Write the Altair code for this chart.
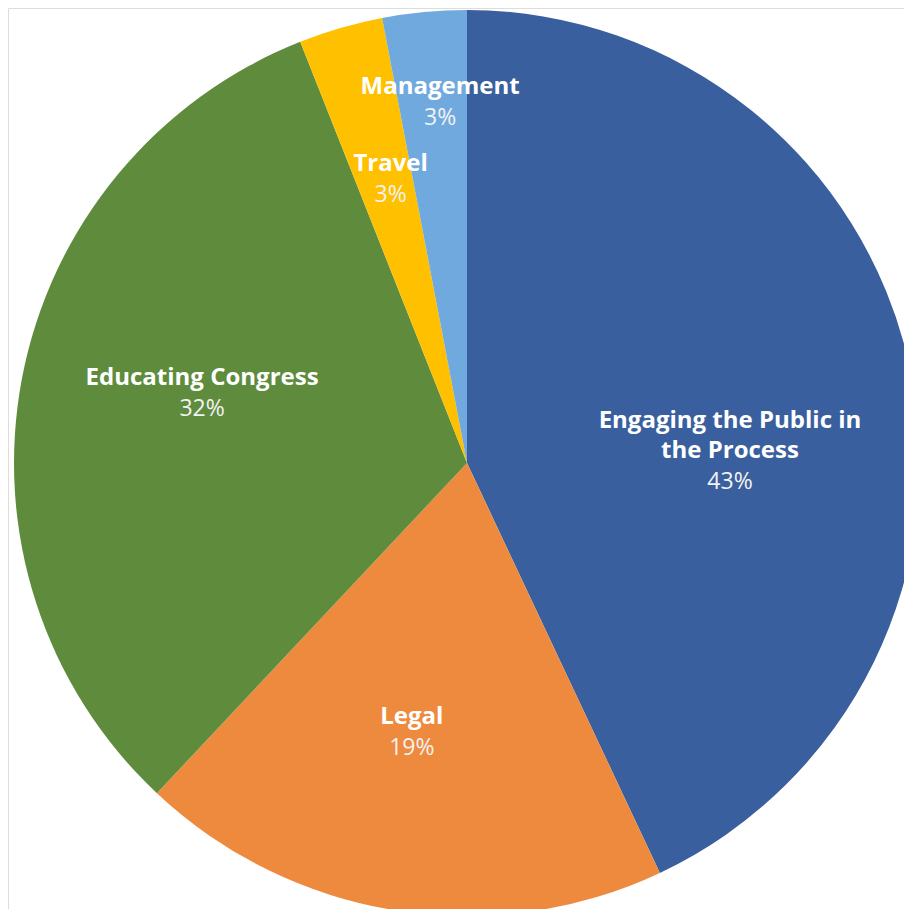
import altair as alt
import pandas as pd

categories = ["Engaging the Public in the Process", "Legal", "Educating Congress", "Travel", "Management"]
display_names = ["Engaging the Public in\nthe Process", "Legal", "Educating Congress", "Travel", "Management"]
values = [43, 19, 32, 3, 3]
pct_labels = ["43%", "19%", "32%", "3%", "3%"]
colors = ["#3A5F9E", "#EE8A3E", "#5E8C3C", "#FFC000", "#70A9DE"]

df = pd.DataFrame({
    "category": categories,
    "name": display_names,
    "value": values,
    "pct": pct_labels,
    "idx": list(range(len(categories))),
})

CX, CY, R = 459, 455, 453
LH = 30

base = alt.Chart(df).transform_joinaggregate(
    total="sum(value)"
).transform_window(
    cum="sum(value)", sort=[alt.SortField("idx")], frame=[None, 0]
).transform_calculate(
    mid="(datum.cum - datum.value/2) / datum.total * 2 * PI",
    la="datum.mid + (datum.value > 40 ? 0.23 : (datum.value > 25 ? 0.07 : (datum.value > 10 ? 0.045 : 0.02)))",
    lr="datum.value >= 10 ? (datum.value > 40 ? 263 : (datum.value > 25 ? 274 : 275)) : (datum.cum >= datum.total ? 362 : 294)",
    nlines="length(split(datum.name, '\\n'))",
).transform_calculate(
    lx=f"{CX} + datum.lr * sin(datum.la)",
    ly=f"{CY} - datum.lr * cos(datum.la)",
).transform_calculate(
    ny=f"datum.ly - (datum.nlines - 1) * {LH} - 3",
    py="datum.ly + 5",
)

arcs = base.mark_arc(strokeWidth=0).encode(
    theta=alt.Theta("value:Q", stack=True),
    order=alt.Order("idx:Q"),
    color=alt.Color("category:N", scale=alt.Scale(domain=categories, range=colors), legend=None),
    x=alt.value(CX),
    y=alt.value(CY),
    radius=alt.value(R),
)

names = base.mark_text(
    font="Open Sans", fontSize=24, fontWeight="bold", baseline="bottom", align="center",
    lineBreak="\n", lineHeight=LH, color="#FFFFFF",
).encode(
    text="name:N",
    x=alt.X("lx:Q", scale=None),
    y=alt.Y("ny:Q", scale=None),
)

pcts = base.mark_text(
    font="Open Sans", fontSize=23, fontWeight="normal", baseline="top", align="center",
    color="#F2F2F2",
).encode(
    text="pct:N",
    x=alt.X("lx:Q", scale=None),
    y=alt.Y("py:Q", scale=None),
)

chart = alt.layer(arcs, names, pcts).properties(
    width=896, height=901, autosize=alt.AutoSizeParams(type="none"), padding=0,
).configure_view(strokeWidth=0, strokeOpacity=0).configure(background="#FFFFFF")

chart.save("out.html", embed_options={"renderer": "svg", "actions": False})
